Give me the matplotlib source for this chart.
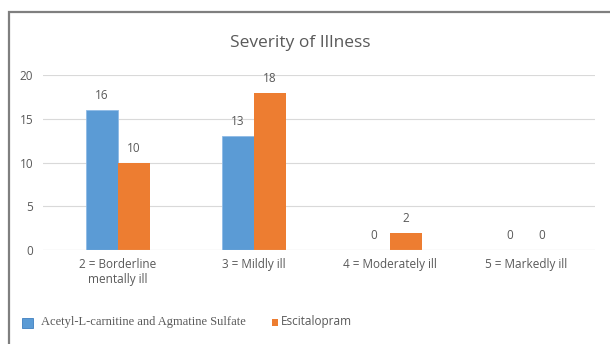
import matplotlib
matplotlib.use('Agg')
import matplotlib.pyplot as plt
import numpy as np
from matplotlib.patches import Rectangle

categories = ['2 = Borderline\nmentally ill', '3 = Mildly ill', '4 = Moderately ill', '5 = Markedly ill']
alc_values = [16, 13, 0, 0]
esc_values = [10, 18, 2, 0]
series_names = ['Acetyl-L-carnitine and Agmatine Sulfate', 'Escitalopram']

blue = '#5b9bd5'
orange = '#ed7d31'
grey_txt = '#595959'

plt.rcParams['font.family'] = ['Open Sans', 'DejaVu Sans']

fig = plt.figure(figsize=(6.1, 3.44), dpi=100)
W, H = 610, 344

# outer chart border (left/top visible)
fig.patches.append(Rectangle((9 / W, -0.1), 1.2, 1 - 12 / H + 0.1, transform=fig.transFigure,
                             fill=False, edgecolor='#7f7f7f', linewidth=1.6))

ax = fig.add_axes([43 / W, 1 - 250 / H, (595 - 43) / W, (250 - 75) / H])
x = np.arange(len(categories))
bw = 0.235
b1 = ax.bar(x - bw / 2, alc_values, bw, color=blue, edgecolor='#8fbbe6', linewidth=0.6, zorder=3)
b2 = ax.bar(x + bw / 2, esc_values, bw, color=orange, zorder=3)

for bars, vals in ((b1, alc_values), (b2, esc_values)):
    for r, v in zip(bars, vals):
        ax.text(r.get_x() + r.get_width() / 2, v + 0.9, str(v), ha='center', va='bottom',
                fontsize=8.5, color=grey_txt)

ax.set_xlim(-0.551, 3.507)
ax.set_ylim(0, 20)
ax.set_yticks([0, 5, 10, 15, 20])
ax.grid(axis='y', color='#d9d9d9', linewidth=0.8, zorder=0)
for s in ax.spines.values():
    s.set_visible(False)
ax.axhline(0, color='#d9d9d9', linewidth=0.8, zorder=4)
ax.tick_params(length=0, labelsize=8.5, labelcolor=grey_txt, pad=7)
ax.tick_params(axis='x', pad=6)
ax.set_xticks(x)
ax.set_xticklabels(categories)

fig.text(300 / W, 1 - 43 / H, 'Severity of Illness', ha='center', va='center',
         fontsize=12.5, color=grey_txt)

# legend
fig.patches.append(Rectangle((22 / W, 1 - 328 / H), 11 / W, 10 / H, transform=fig.transFigure,
                             facecolor=blue, edgecolor='#3f7fc0', linewidth=0.6))
fig.text(41 / W, 1 - 322 / H, series_names[0], ha='left', va='center', fontsize=9,
         color=grey_txt, family=['Liberation Serif'])
fig.patches.append(Rectangle((272 / W, 1 - 326 / H), 6 / W, 7 / H, transform=fig.transFigure,
                             facecolor=orange, edgecolor='none'))
fig.text(281 / W, 1 - 322 / H, series_names[1], ha='left', va='center', fontsize=8.5,
         color=grey_txt)

fig.savefig('out.png', dpi=100)
